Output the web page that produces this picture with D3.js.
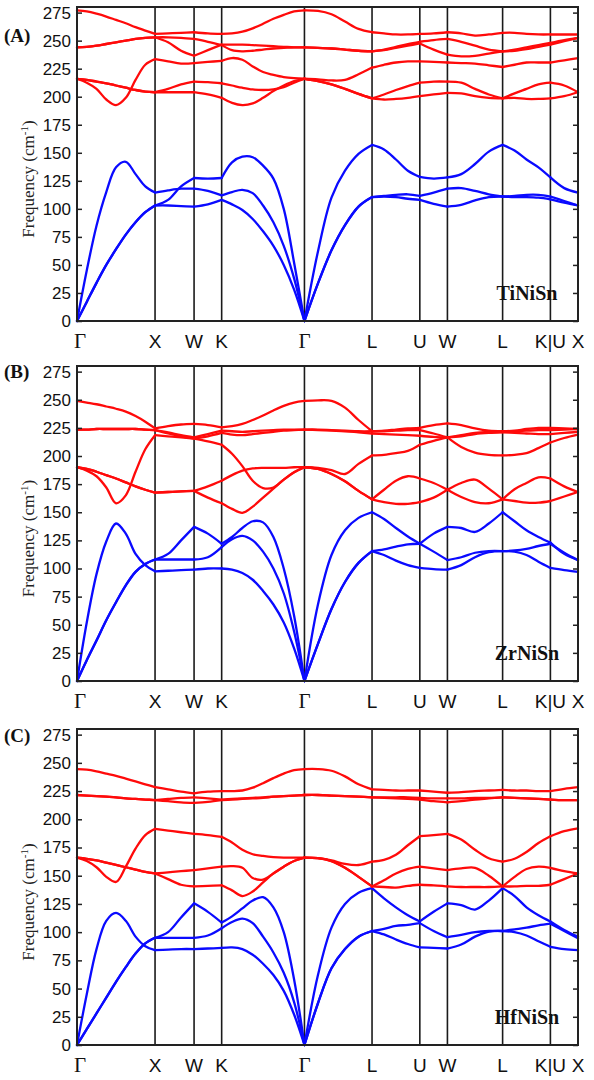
<!DOCTYPE html>
<html>
<head>
<meta charset="utf-8">
<script src="https://cdn.jsdelivr.net/npm/d3@7"></script>
<style>
  body { margin: 0; background: #fff; }
</style>
</head>
<body>
<svg id="chart" width="594" height="1080"></svg>
<script>
// path coordinate of the sample columns (units of 2pi/a along G-X-W-K-G-L-U-W-L-K|U-X)
const qGrid = [0, 0.125, 0.25, 0.375, 0.5, 0.625, 0.75, 0.875, 1.0,
  1.1667, 1.3333, 1.5,
  1.6768, 1.8536,
  1.9862, 2.1188, 2.2514, 2.3840, 2.5165, 2.6491, 2.7817, 2.9143,
  3.0875, 3.2607, 3.4339, 3.6071, 3.7803,
  3.9334, 4.0865, 4.2396, 4.3927,
  4.5695, 4.7463,
  4.9231, 5.0999, 5.2766, 5.4534,
  5.6065, 5.7596, 5.9127, 6.0658,
  6.2426, 6.4194];
// indices of high symmetry points inside qGrid
const segIdx = [0, 8, 11, 13, 21, 26, 30, 32, 36, 40, 42];
const kPos = [0, 1, 1.5, 1.8536, 2.9143, 3.7803, 4.3927, 4.7463, 5.4534, 6.0658, 6.4194];
const kLabels = ["Γ", "X", "W", "K", "Γ", "L", "U", "W", "L", "K|U", "X"];
const yTicks = [0, 25, 50, 75, 100, 125, 150, 175, 200, 225, 250, 275];

// TiNiSn
const tiRed = [
  [277,276,274,271.5,268.5,265.5,262,259,256, 256.5,257,257.5, 256.5,256, 256.5,258,261,265,269.5,273,276,277, 276.5,273.5,267,260.5,257.5, 256.5,255.5,255.5,256, 256.5,257.5, 256.5,254.5,255.5,257, 257,256,255.5,255.5, 255.5,255.5],
  [244,244.5,245.5,247,248.5,250,251.5,252.5,253, 253,252.5,251.5, 249,246, 241.5,240.5,241,242,243,243.5,244,244, 243.5,243,242,241,240.5, 242,244.5,247,249, 250.5,251.5, 249,245.5,242,240.5, 242,244,246,248, 250.5,252.5],
  [244,244.5,245.5,247,248.5,250,251.5,252.5,253, 248.5,241,236.5, 241.5,246.5, 246.5,246.5,246,245.5,245,244.5,244,244, 243.5,243,242,241,240.5, 241.5,243.5,245.5,247.5, 242,237.5, 236,236.5,238.5,240.5, 241,242.5,244.5,246.5, 249.5,252.5],
  [216,212.5,207,197.5,192.5,199,215,228.5,233.5, 231.5,229.5,230, 231,232, 234.5,233,227,222,219.5,217.5,216.5,216, 215.5,214.5,215,220,226, 228.5,230.5,231.5,231.5, 231,230.5, 230,229.5,228,226.5, 228.5,230.5,230.5,230.5, 232.5,234.5],
  [216,215,213.5,212,210,208,206,204.5,204, 207,211,213.5, 213,212, 210,208,206.5,206,206.5,208.5,212.5,216, 214,211,207,202.5,198.5, 202,206,209.5,212.5, 213.5,213.5, 212.5,207,202,198.5, 203,207,211,212.5, 210,204],
  [216,215,213.5,212,210,208,206,204.5,204, 204,204,204, 202,199, 194.5,192.5,194,199,205,210,214,216, 214,211,207,202.5,198.5, 197.5,198,199,200.5, 202,203.5, 203,200.5,199,198.5, 199,198,198,198.5, 200.5,204]
];
const tiBlue = [
  [0,17,34,50,64,77,88,97,103, 103,102.5,102, 104,108, 104,99,91,80,67,50,28,0, 33.5,63,85.5,102,110.5, 111,110.5,109,108, 104.5,102, 103.5,107.5,110.5,111, 110.5,110.5,110,108.5, 105.5,103],
  [0,17,34,50,64,77,88,97,103, 108,120,127.5, 127,127.5, 141.5,146.5,146,138.5,127,100,52,0, 33.5,63,85.5,102,110.5, 111.5,112.5,113,111.5, 114.5,118, 118.5,116,113,111, 111.5,112.5,112.5,111, 107,103],
  [0,45,85,115,137,142,131,120,114.5, 116.5,118,118, 116,112, 115,117,114,103,88,67,38,0, 62,110,134,149,157, 153,144,134,128.5, 127,128, 131,140,151,157, 152,144,137,128, 118.5,114.5]
];

// ZrNiSn
const zrRed = [
  [249,247.5,246,244,242,239.5,235.5,230.5,224.5, 226.5,228,228.5, 227.5,225.5, 226.5,228.5,232,236,240.5,244.5,247.5,249, 249.5,249,243,232,222, 222.5,223.5,224.5,225, 227.5,229, 227.5,224.5,222.5,222, 222.5,224,225,225, 224.5,224],
  [223.5,223.5,224,224,224,224,224,223.5,223, 221,218.5,216.5, 219.5,222.5, 222,221.5,222,222.5,223,223.5,223.5,223.5, 223.5,223,222.5,222,222, 222,222.5,223,223, 220,216.5, 218.5,220.5,221.5,222, 222,222.5,223,223, 223.5,224],
  [223.5,223.5,224,224,224,224,224,223.5,223, 220,217.5,215.5, 217.5,220.5, 219,218.5,219.5,220.5,221.5,222.5,223,223.5, 223,222.5,222,221,220, 219.5,219,218.5,218, 217,216.5, 217.5,219.5,220.5,221, 220.5,220,219.5,219.5, 220.5,221.5],
  [190,187,182,172,158,165,186,206,218.5, 217.5,216.5,215.5, 213,210, 202,191,178,171.5,172,179,185.5,190, 189.5,187.5,184,193,200.5, 201,202.5,204.5,210, 213.5,216.5, 208,203,201,200.5, 201,202.5,207,212, 216,219],
  [190,188.5,186,183,180,176.5,173,170,167.5, 168,168.5,169, 173,178, 183,187,189,189.5,189.5,189.5,190,190, 188.5,184,177.5,169,161.5, 170,178,182,180, 176,170, 176,179,171,161.5, 170.5,176,181,180, 173,168],
  [190,188.5,186,183,180,176.5,173,170,167.5, 168,168.5,169, 163,158, 153,149.5,155,163,171,179,185.5,190, 188.5,184,177.5,169,161.5, 159,157.5,157.5,159, 163,170, 163.5,159,158,161.5, 160,158.5,158.5,160, 164,168]
];
const zrBlue = [
  [0,52,95,124,140,131,113,103,97.5, 98,98.5,99, 100,100, 99,96,90,80,68,52,29,0, 33,64,88,105,115.5, 112,107,103,100.5, 99.5,99, 103,110,114.5,115.5, 115,112,106,100.5, 98.5,97],
  [0,18.5,36,54,70,85,97,104,108, 108,108,108, 110,119, 126,129,125,115,100,78,44,0, 33,64,88,105,115.5, 117,119.5,121.5,122, 115,107.5, 110,114,115.5,115.5, 116,117.5,120,122, 114,107.5],
  [0,18.5,36,54,70,85,97,104,108, 113,125,137, 131,122, 128,136,142,141,128,100,58,0, 68,112,134,145,150, 144,136,128.5,122, 131,137, 136,132.5,140,150, 142,134,128,123, 113,107.5]
];

// HfNiSn
const hfRed = [
  [244.5,244,242.5,240.5,238.5,236,233.5,231,228.5, 226.5,224.5,223, 224.5,225, 225,225.5,228,232,236.5,240.5,243.5,244.5, 244.5,243,238,231,226.5, 226,225.5,225.5,225.5, 224.5,223.5, 224,225,225.5,226, 225.5,225.5,225,225, 227,228.5],
  [221.5,221,220.5,220,219.5,218.5,218,217.5,217, 218,219,219.5, 218.5,217.5, 218,218.5,219,219.5,220,220.5,221,221.5, 221.5,221,220.5,220,219.5, 219.5,219.5,219.5,219, 218.5,218.5, 218.5,219,219,219.5, 219,218.5,218,217.5, 217,217],
  [221.5,221,220.5,220,219.5,218.5,218,217.5,217, 216,215,214.5, 215.5,217, 217.5,218,218.5,219,220,220.5,221,221.5, 221.5,221,220.5,220,219.5, 219,218.5,218,217.5, 216,215, 216,217.5,218.5,219.5, 219,218.5,218,217.5, 217,217],
  [166,163,157.5,149,144.5,158,174,186,191.5, 190,188.5,187, 186,184.5, 179.5,173,169,167.5,166.5,166,166,166, 165.5,163.5,160.5,159.5,162.5, 164,168.5,177,185, 186,187, 182,173,165.5,162.5, 165,171,179,185, 189.5,192],
  [166,165,163.5,161.5,159.5,157.5,155.5,153.5,152, 153,154,155, 156.5,158, 158.5,157,148,146.5,152,158,163,166, 165.5,163,157,149,140.5, 146,152,156,158, 156.5,155, 156.5,157,150,140.5, 149,156,158,157, 154,152],
  [166,165,163.5,161.5,159.5,157.5,155.5,153.5,152, 147,142,140.5, 141,141.5, 137,132,136,144,152,158,163,166, 165.5,163,157,149,140.5, 140,139.5,141,142, 141.5,140.5, 140,140,140,140.5, 140.5,141,141,142, 147,152]
];
const hfBlue = [
  [0,45,85,110,117,110,96,87.5,84, 84.5,85,85, 85.5,86, 86.5,85,80,72,62,48,27,0, 37,68,85,96,101, 98,93.5,89.5,86.5, 86,85.5, 89,96,100.5,101, 100,97,92,87, 85,84],
  [0,14,28,42,56,69,81,90,95, 95,95,95, 97,103.5, 109,112,108,96,82,64,38,0, 37,68,85,96,101, 103,105.5,106.5,108, 101,95.5, 97.5,100,101,101, 102.5,104,106,107.5, 101,94.5],
  [0,14,28,42,56,69,81,90,95, 100,113,125.5, 118,108.5, 114,121,128,131,122,100,58,0, 62,104,125,135,139, 130,122,115,109.5, 118,125.5, 124,120,128,139, 132,122,115,109.5, 102,96]
];

const panels = [
  { tag: "(A)", name: "TiNiSn", top: 7,   bottom: 321,  tagY: 42,  red: tiRed, blue: tiBlue },
  { tag: "(B)", name: "ZrNiSn", top: 366, bottom: 681,  tagY: 378, red: zrRed, blue: zrBlue },
  { tag: "(C)", name: "HfNiSn", top: 729, bottom: 1045, tagY: 742, red: hfRed, blue: hfBlue }
];

const svg = d3.select("#chart");
const left = 77, right = 578;
const x = d3.scaleLinear().domain([0, kPos[kPos.length - 1]]).range([left, right]);

panels.forEach(p => {
  const y = d3.scaleLinear().domain([0, 280]).range([p.bottom, p.top]);
  const g = svg.append("g");

  // high symmetry lines
  g.selectAll(".kline")
    .data(kPos.slice(1, -1))
    .enter()
    .append("line")
    .attr("x1", d => x(d)).attr("x2", d => x(d))
    .attr("y1", p.top).attr("y2", p.bottom)
    .attr("stroke", "#1a1a1a")
    .attr("stroke-width", 1.6);

  const line = d3.line()
    .x(d => x(d[0]))
    .y(d => y(d[1]))
    .curve(d3.curveCatmullRom.alpha(0.5));

  // each band is drawn piece by piece between high symmetry points
  function drawBands(bands, color) {
    bands.forEach(band => {
      for (let s = 0; s < segIdx.length - 1; s++) {
        const pts = d3.range(segIdx[s], segIdx[s + 1] + 1).map(i => [qGrid[i], band[i]]);
        g.append("path")
          .attr("d", line(pts))
          .attr("fill", "none")
          .attr("stroke", color)
          .attr("stroke-width", 2.3)
          .attr("stroke-linecap", "round");
      }
    });
  }
  drawBands(p.blue, "#0a0aff");
  drawBands(p.red, "#ff0a0a");

  // axes, ticks pointing inwards
  const yAxis = g.append("g")
    .attr("transform", `translate(${left},0)`)
    .call(d3.axisLeft(y).tickValues(yTicks).tickSizeInner(-5).tickSizeOuter(0).tickPadding(6));
  yAxis.select(".domain").remove();
  yAxis.selectAll("text")
    .attr("font-family", "Liberation Sans, Arial, sans-serif")
    .attr("font-size", 17)
    .attr("fill", "#111");
  yAxis.selectAll("line").attr("stroke", "#222").attr("stroke-width", 1.5);

  const yAxisR = g.append("g")
    .attr("transform", `translate(${right},0)`)
    .call(d3.axisRight(y).tickValues(yTicks).tickSizeInner(-5).tickSizeOuter(0).tickFormat(""));
  yAxisR.select(".domain").remove();
  yAxisR.selectAll("line").attr("stroke", "#222").attr("stroke-width", 1.5);

  // frame
  g.append("rect")
    .attr("x", left).attr("y", p.top)
    .attr("width", right - left).attr("height", p.bottom - p.top)
    .attr("fill", "none")
    .attr("stroke", "#222")
    .attr("stroke-width", 2);

  // k-point labels
  g.selectAll(".klabel")
    .data(kPos)
    .enter()
    .append("text")
    .attr("x", (d, i) => i === 0 ? x(d) + 3 : x(d))
    .attr("y", p.bottom + 27)
    .attr("text-anchor", "middle")
    .attr("font-family", (d, i) => kLabels[i] === "Γ" ? "Liberation Serif, Times New Roman, serif" : "Liberation Sans, Arial, sans-serif")
    .attr("font-size", (d, i) => kLabels[i] === "Γ" ? 21 : 19)
    .attr("fill", "#111")
    .text((d, i) => kLabels[i]);

  // y label
  const yl = g.append("text")
    .attr("transform", `translate(34,${(p.top + p.bottom) / 2 + 15}) rotate(-90)`)
    .attr("text-anchor", "middle")
    .attr("font-family", "Liberation Serif, Times New Roman, serif")
    .attr("font-size", 17)
    .attr("fill", "#222");
  yl.append("tspan").text("Frequency (cm");
  yl.append("tspan").attr("font-size", 11).attr("dy", -6).text("-1");
  yl.append("tspan").attr("dy", 6).text(")");

  // panel tag
  g.append("text")
    .attr("x", 4).attr("y", p.tagY)
    .attr("font-family", "Liberation Serif, Times New Roman, serif")
    .attr("font-weight", "bold")
    .attr("font-size", 19)
    .attr("fill", "#111")
    .text(p.tag);

  // compound name
  g.append("text")
    .attr("x", 527).attr("y", p.bottom - 21)
    .attr("text-anchor", "middle")
    .attr("font-family", "Liberation Serif, Times New Roman, serif")
    .attr("font-weight", "bold")
    .attr("font-size", 20)
    .attr("fill", "#111")
    .text(p.name);
});
</script>
</body>
</html>
